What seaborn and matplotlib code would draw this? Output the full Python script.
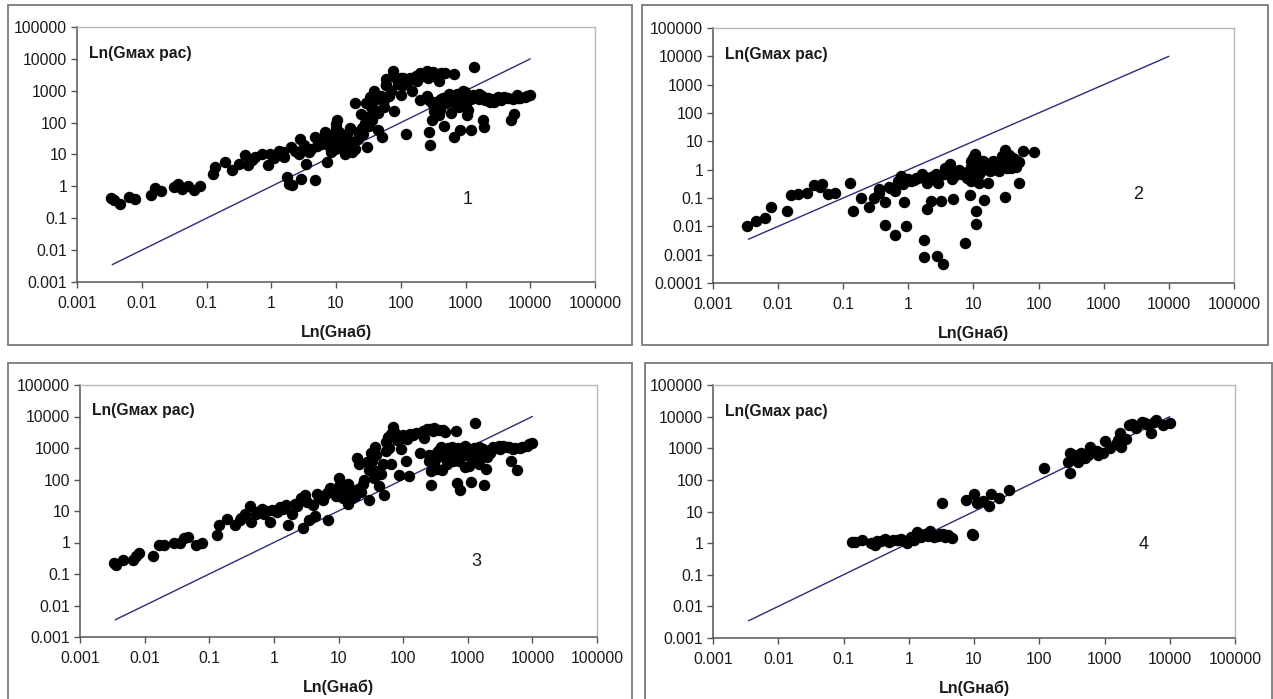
import matplotlib
matplotlib.use("Agg")
import matplotlib.pyplot as plt
from matplotlib.patches import Rectangle
from matplotlib.ticker import FixedLocator, FixedFormatter, NullLocator
import seaborn as sns
import pandas as pd

# ---------------- data ----------------
p1_x = [0.0034, 0.0037, 0.0046, 0.0063, 0.0079, 0.014, 0.016, 0.02, 0.031, 0.036, 0.042, 0.052, 0.065, 0.078,
        0.125, 0.134, 0.19, 0.25, 0.32, 0.4, 0.43, 0.5, 0.57, 0.72, 0.89, 0.95, 1.3, 1.6, 1.75, 1.85, 2.0, 2.1,
        2.7, 2.8, 2.9, 3.4, 4.1, 4.7, 4.8, 5.8, 6.7, 7.3, 8.4, 9.0, 10, 10.4, 11, 12.5, 14, 16, 16.5, 17.5,
        20, 22, 24, 26, 29, 30, 33, 36, 39, 42, 45, 52, 56, 60, 70, 75, 78, 90, 102, 120, 130, 150, 180, 220,
        250, 270, 275, 280, 300, 330, 390, 390, 420, 460, 490, 570, 670, 670, 770, 830, 970, 1050, 1230, 1300,
        1350, 1600, 1850, 1950, 2400, 3000, 4000, 5000, 5600, 6200, 8200, 10000,
        200, 350, 450, 600, 700, 900, 1100, 1800, 2000, 2500, 3500, 4500, 7000, 60, 110, 240, 320,
        12, 13, 15, 18, 20, 22, 25, 28, 30, 32, 35, 40, 45, 50, 55, 60, 65, 85, 100, 110, 140, 170, 200,
        260, 320, 360, 420, 250, 300, 400, 500, 550, 650, 750, 850, 1000, 1200, 1400, 1600, 2200, 2800,
        3200, 5500, 6500, 9000, 800, 1100, 400, 600, 300,
        1.1, 1.5, 2.3, 3.2, 3.8, 5, 6, 7.5, 8, 9.5, 10, 11, 10]
p1_y = [0.43, 0.37, 0.28, 0.46, 0.41, 0.55, 0.9, 0.7, 0.95, 1.2, 0.85, 1.05, 0.75, 1.05,
        2.4, 4, 5.8, 3.2, 5.2, 9.5, 4.7, 6.6, 8.3, 10.5, 4.6, 10.5, 13, 8.3, 2.0, 1.2, 17, 1.1,
        10.5, 31, 1.7, 5.2, 15, 35, 1.6, 22, 50, 5.8, 12, 27, 68, 120, 17, 35, 10.5, 22, 68, 12,
        400, 50, 190, 45, 400, 17, 640, 120, 1000, 240, 60, 35, 500, 2400, 1000, 4300, 240, 1600, 720, 45, 2000, 1000, 2000, 3000,
        4300, 500, 50, 20, 3300, 240, 2000, 170, 570, 80, 3500, 500, 3300, 35, 650, 60, 900, 170, 60, 750,
        5500, 570, 125, 75, 450, 570, 650, 125, 190, 720, 650, 720,
        500, 450, 600, 700, 500, 1000, 650, 700, 500, 550, 500, 600, 580, 1500, 2500, 3500, 3000,
        30, 20, 45, 25, 15, 30, 70, 100, 150, 80, 300, 500, 200, 700, 300, 1500, 700, 2500, 2500, 1500, 2500, 3000, 3500,
        2500, 3800, 3000, 3500, 700, 400, 500, 400, 800, 450, 800, 500, 400, 550, 650, 800, 600, 450,
        650, 550, 600, 700, 300, 250, 250, 200, 120,
        8, 12, 13, 20, 12, 18, 30, 20, 40, 15, 35, 50, 90]

p2_x = [0.0033, 0.0046, 0.0063, 0.0077, 0.0135, 0.016, 0.02, 0.028, 0.035, 0.044, 0.047, 0.058, 0.076,
        0.126, 0.14, 0.185, 0.25, 0.3, 0.36, 0.44, 0.43, 0.52, 0.63, 0.63, 0.78, 0.84, 0.93, 0.87, 1.2, 1.6,
        1.75, 1.75, 1.9, 1.95, 2.2, 2.65, 2.8, 2.9, 3.2, 3.4, 3.7, 4.4, 4.6, 4.8, 5.9, 7.3, 7.9, 8.8, 9.8,
        10.5, 10.9, 10.9, 10.9, 12, 14, 14.5, 16.5, 19, 25, 27, 30, 30, 33, 35, 40, 50, 50, 57, 85,
        9, 11, 13, 20, 24, 35, 40, 45, 1.0, 1.4, 2.2, 3.0, 6.5, 9,
        0.35, 0.5, 0.7, 1.1, 1.3, 1.8, 2.5, 3.5, 4, 5, 6, 8, 10, 12, 15, 18, 22, 28, 32, 38, 45, 9, 11]
p2_y = [0.01, 0.016, 0.02, 0.05, 0.036, 0.13, 0.14, 0.15, 0.28, 0.25, 0.3, 0.14, 0.15,
        0.35, 0.036, 0.1, 0.05, 0.1, 0.2, 0.075, 0.011, 0.23, 0.18, 0.005, 0.6, 0.3, 0.01, 0.075, 0.43, 0.7,
        0.0034, 0.0008, 0.35, 0.04, 0.08, 0.7, 0.0009, 0.35, 0.08, 0.00046, 1.1, 1.6, 0.45, 0.09, 0.9, 0.0025, 0.5, 0.13, 2.5,
        3.6, 0.8, 0.035, 0.012, 0.35, 2, 0.085, 0.35, 1, 0.9, 3, 5, 0.11, 1.1, 3.2, 1.8, 1.8, 0.33, 4.5, 4.3,
        1.2, 1.5, 0.9, 2, 1.6, 1.5, 2.5, 1.2, 0.45, 0.5, 0.55, 0.6, 0.7, 0.4,
        0.15, 0.25, 0.4, 0.4, 0.5, 0.55, 0.6, 0.7, 0.9, 0.6, 1.0, 0.8, 1.0, 0.7, 1.2, 0.9, 1.3, 1.5, 2, 1.1, 2.2, 2, 2.5]

p3_x = [0.0033, 0.0036, 0.0046, 0.0066, 0.0074, 0.0082, 0.0137, 0.0165, 0.02, 0.028, 0.035, 0.04, 0.047, 0.063, 0.078,
        0.13, 0.14, 0.19, 0.25, 0.31, 0.36, 0.42, 0.45, 0.52, 0.65, 0.75, 0.86, 0.93, 1.25, 1.55, 1.65, 1.9, 2.1,
        2.6, 2.8, 3.0, 3.5, 4.3, 4.6, 5.7, 6.6, 7.0, 7.5, 9.3, 10, 11.6, 12.5, 14, 15.7, 18, 19.5, 21, 24, 28,
        30, 32, 35, 37, 40, 43, 50, 54, 58, 66, 70, 80, 86, 94, 110, 115, 125, 140, 180, 210, 230, 250, 270,
        270, 290, 330, 360, 380, 410, 450, 470, 580, 650, 670, 720, 770, 900, 1050, 1130, 1300, 1300, 1500,
        1800, 1900, 2200, 2500, 3200, 4000, 4600, 5400, 5800, 6500, 8200, 10000,
        300, 350, 400, 450, 500, 550, 600, 700, 800, 1000, 1200, 1400, 1700, 2000, 2800, 3500,
        12, 14, 16, 20, 22, 25, 30, 33, 38, 45, 48, 55, 60, 65, 75, 90, 100, 130, 160, 200, 260, 300, 420,
        250, 300, 350, 400, 500, 600, 700, 850, 950, 1100, 1250, 1600, 2400, 3000, 4400, 5000, 7000, 9000, 900, 1500,
        1.1, 1.4, 2.3, 3.3, 4, 5, 6, 8, 9, 10, 11, 0.3, 0.55, 0.7]
p3_y = [0.22, 0.2, 0.27, 0.27, 0.36, 0.45, 0.37, 0.85, 0.85, 0.95, 0.95, 1.35, 1.5, 0.85, 1.0,
        1.7, 3.5, 5.7, 3.5, 6, 8, 14, 4.5, 8, 12, 10, 4.5, 11, 13, 15, 3.5, 8, 17,
        25, 2.8, 33, 5, 7, 35, 22, 37, 5.3, 55, 30, 110, 26, 55, 17, 45, 30, 480, 300, 70, 350,
        22, 700, 110, 1100, 180, 60, 32, 800, 2300, 300, 4500, 1800, 140, 900, 400, 2000, 125, 2500, 700, 2100, 4000, 400, 65,
        180, 3500, 220, 3800, 1100, 550, 3300, 300, 1100, 3500, 75, 400, 48, 1200, 270, 85, 6000, 700, 1100,
        65, 220, 700, 1100, 900, 1100, 400, 1000, 200, 1000, 1200, 1450,
        600, 800, 900, 700, 1000, 600, 800, 1000, 600, 900, 500, 800, 900, 500, 1000, 1200,
        35, 70, 25, 50, 40, 100, 200, 400, 600, 150, 300, 1500, 1000, 2800, 3000, 2000, 2500, 2800, 3000, 3500, 4000, 4300, 3700,
        600, 300, 500, 200, 500, 400, 600, 900, 600, 700, 1000, 600, 900, 1200, 1100, 900, 1100, 1300, 250, 300,
        9, 12, 14, 20, 15, 25, 30, 40, 50, 60, 80, 5, 9, 8]

p4_x = [0.135, 0.19, 0.26, 0.3, 0.37, 0.43, 0.5, 0.57, 0.76, 0.87, 0.93, 1.1, 1.35, 1.55, 1.8, 2.1, 2.4,
        3.2, 3.4, 4.0, 4.6, 7.6, 9.3, 9.8, 10, 11, 13.5, 17, 18, 24, 34, 117, 280, 300, 300, 340, 390, 440,
        560, 610, 760, 950, 1000, 1200, 1500, 1700, 1800, 2100, 2400, 3000, 3800, 4700, 5100, 5700, 6200,
        7900, 10200, 0.7, 1.2, 2.8, 3.6, 500, 800, 0.15, 0.33, 0.65, 2.0, 3.0, 1600, 2600, 4200]
p4_y = [1.05, 1.25, 1.0, 0.9, 1.15, 1.4, 1.05, 1.25, 1.4, 1.15, 1.0, 1.6, 2.2, 1.6, 1.95, 2.5, 1.6,
        18, 2.0, 1.8, 1.5, 23, 2.0, 1.8, 35, 18, 22, 15, 35, 27, 48, 240, 380, 170, 700, 620, 380, 700,
        620, 1100, 800, 700, 1700, 1000, 1350, 3000, 1100, 1900, 5500, 4300, 6900, 5500, 3000, 6900, 7700,
        5500, 6200, 1.3, 1.3, 1.7, 1.6, 500, 600, 1.1, 1.2, 1.3, 1.7, 1.9, 1800, 6000, 6500]

line_x = [0.0035, 10000]
line_y = [0.0035, 10000]

x_ticks = [0.001, 0.01, 0.1, 1, 10, 100, 1000, 10000, 100000]
x_tick_labels = ["0.001", "0.01", "0.1", "1", "10", "100", "1000", "10000", "100000"]
y_ticks_a = [0.001, 0.01, 0.1, 1, 10, 100, 1000, 10000, 100000]
y_tick_labels_a = ["0.001", "0.01", "0.1", "1", "10", "100", "1000", "10000", "100000"]
y_ticks_b = [0.0001, 0.001, 0.01, 0.1, 1, 10, 100, 1000, 10000, 100000]
y_tick_labels_b = ["0.0001", "0.001", "0.01", "0.1", "1", "10", "100", "1000", "10000", "100000"]

y_title = "Ln(Gмах рас)"
x_title = "Ln(Gнаб)"
panel_names = ["1", "2", "3", "4"]

# ---------------- figure ----------------
sns.set_theme(style="white")
plt.rcParams["font.family"] = ["Liberation Sans", "DejaVu Sans"]

W, H = 1273, 699
fig = plt.figure(figsize=(W / 100, H / 100), dpi=100)
fig.patch.set_facecolor("white")

def px_axes(l, t, r, b):
    return [l / W, 1 - b / H, (r - l) / W, (b - t) / H]

axes_boxes = [px_axes(77, 27, 595, 282), px_axes(713, 28, 1234, 283),
              px_axes(80, 385, 597, 637), px_axes(713, 385, 1235, 638)]
frames = [(8, 5, 632, 345), (642, 5, 1268, 345), (8, 363, 632, 705), (645, 363, 1272, 705)]
num_pos = [(0.755, 0.325), (0.816, 0.349), (0.766, 0.298), (0.824, 0.368)]

for (l, t, r, b) in frames:
    fig.patches.append(Rectangle((l / W, 1 - b / H), (r - l) / W, (b - t) / H,
                                 transform=fig.transFigure, fill=False,
                                 edgecolor="#7a7a7a", linewidth=1.3, zorder=0))

data = [(p1_x, p1_y, False), (p2_x, p2_y, True), (p3_x, p3_y, False), (p4_x, p4_y, False)]

for i, (xs, ys, deep) in enumerate(data):
    ax = fig.add_axes(axes_boxes[i])
    df = pd.DataFrame({"x": xs, "y": ys})
    ax.set_xscale("log")
    ax.set_yscale("log")
    sns.lineplot(x=line_x, y=line_y, ax=ax, color="#2b2b7a", linewidth=1.0, zorder=2)
    sns.scatterplot(data=df, x="x", y="y", ax=ax, color="black", s=68, linewidth=0, zorder=3)
    ax.set_xlim(0.001, 100000)
    if deep:
        ax.set_ylim(0.0001, 100000)
        yt, ytl = y_ticks_b, y_tick_labels_b
    else:
        ax.set_ylim(0.001, 100000)
        yt, ytl = y_ticks_a, y_tick_labels_a
    ax.xaxis.set_major_locator(FixedLocator(x_ticks))
    ax.xaxis.set_major_formatter(FixedFormatter(x_tick_labels))
    ax.yaxis.set_major_locator(FixedLocator(yt))
    ax.yaxis.set_major_formatter(FixedFormatter(ytl))
    ax.xaxis.set_minor_locator(NullLocator())
    ax.yaxis.set_minor_locator(NullLocator())
    ax.grid(False)
    ax.set_facecolor("white")
    for side in ["top", "right"]:
        ax.spines[side].set_color("#b8b8b8")
        ax.spines[side].set_linewidth(1.0)
    for side in ["left", "bottom"]:
        ax.spines[side].set_color("#555555")
        ax.spines[side].set_linewidth(1.1)
    ax.tick_params(axis="both", which="major", direction="out", length=4, width=1,
                   color="#555555", labelsize=11.3, labelcolor="#1a1a1a", pad=3,
                   left=True, bottom=True)
    ax.tick_params(axis="x", pad=6)
    ax.set_ylabel("")
    ax.set_xlabel(x_title, fontsize=11.5, fontweight="bold", color="#1a1a1a")
    ax.xaxis.set_label_coords(0.5, -0.198)
    ax.xaxis.label.set_verticalalignment("center")
    ax.text(0.023, 0.897, y_title, transform=ax.transAxes, ha="left", va="center",
            fontsize=11.3, fontweight="bold", color="#1a1a1a")
    ax.text(num_pos[i][0], num_pos[i][1], panel_names[i], transform=ax.transAxes,
            ha="center", va="center", fontsize=13, color="#1a1a1a")

fig.savefig("out.png", dpi=100, facecolor="white")
